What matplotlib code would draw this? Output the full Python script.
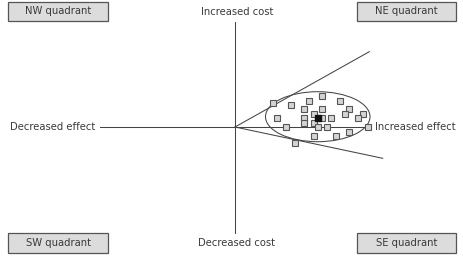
import matplotlib
matplotlib.use("Agg")
import matplotlib.pyplot as plt
from matplotlib.patches import Rectangle, Ellipse

# Data: incremental effect (x) and incremental cost (y), origin at centre
effect = [38, 56, 74, 87, 105, 69, 87, 114, 78.5, 110, 128, 42, 69, 87, 96, 123,
          69, 78.5, 51, 83, 92, 132.5, 114, 78.5, 101, 60]
cost = [24, 22, 26.5, 31, 26.5, 17.7, 17.7, 17.7, 13, 13, 13, 8.7, 8.7, 8.7, 8.7, 8.7,
        4.3, 4.3, 0, 0, 0, 0, -4.8, -9.3, -9.3, -15.7]
point_estimate = (83, 8.7)
ci_upper_end = (134.3, 75.3)
ci_lower_end = (147.7, -31.3)
ellipse_center = (82.75, 10.3)
ellipse_size = (104.5, 50)
quadrants = ["NW quadrant", "NE quadrant", "SW quadrant", "SE quadrant"]
axis_labels = ["Increased cost", "Decreased cost", "Decreased effect", "Increased effect"]

W, H = 463, 256
fig = plt.figure(figsize=(W / 100, H / 100), dpi=100)
ax = fig.add_axes([0, 0, 1, 1])
ox, oy = 235, 127
ax.set_xlim(-ox, W - ox)
ax.set_ylim(oy - H, oy)
ax.axis("off")

lc = "#444444"
tc = "#3a3a3a"
fs = 7.2
font = "DejaVu Sans"

# axes lines
ax.plot([-135, 132.5], [0, 0], color=lc, lw=0.75, zorder=1)
ax.plot([0, 0], [-106, 105.3], color=lc, lw=0.75, zorder=1)
ax.plot([0, ci_upper_end[0]], [0, ci_upper_end[1]], color=lc, lw=0.75, zorder=1)
ax.plot([0, ci_lower_end[0]], [0, ci_lower_end[1]], color=lc, lw=0.75, zorder=1)

ax.add_patch(Ellipse(ellipse_center, ellipse_size[0], ellipse_size[1],
                     fill=False, edgecolor=lc, lw=0.75, zorder=2))

ax.plot(effect, cost, linestyle="none", marker="s", ms=3.7, mfc="#d4d4d4",
        mec="#555555", mew=0.8, zorder=3)
ax.plot([point_estimate[0]], [point_estimate[1]], linestyle="none", marker="s",
        ms=3.7, mfc="#111111", mec="#111111", zorder=4)

# axis labels
ax.text(1.7, 115, axis_labels[0], ha="center", va="center", fontsize=fs, color=tc, family=font)
ax.text(1.7, -116, axis_labels[1], ha="center", va="center", fontsize=fs, color=tc, family=font)
ax.text(-140, 0, axis_labels[2], ha="right", va="center", fontsize=fs, color=tc, family=font)
ax.text(140, 0, axis_labels[3], ha="left", va="center", fontsize=fs, color=tc, family=font)

# quadrant boxes
bw, bh = 99.4, 19.6
centers = [(-177, 115.5), (171.2, 115.5), (-177, -116), (171.2, -116)]
for (cx, cy), lab in zip(centers, quadrants):
    ax.add_patch(Rectangle((cx - bw / 2, cy - bh / 2), bw, bh, facecolor="#dcdcdc",
                           edgecolor="#555555", lw=0.9, zorder=2))
    ax.text(cx, cy, lab, ha="center", va="center", fontsize=fs, color=tc, family=font, zorder=3)

fig.savefig("out.png", dpi=100)
